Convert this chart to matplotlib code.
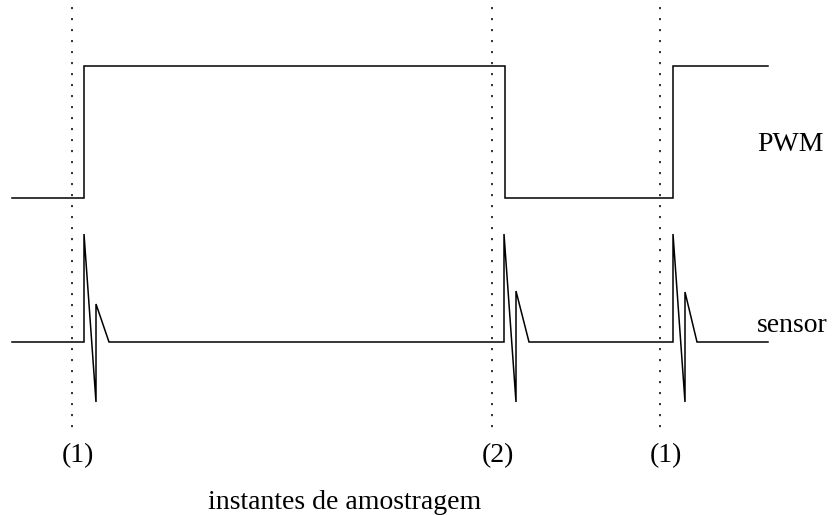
import matplotlib
matplotlib.use("Agg")
import matplotlib.pyplot as plt

# Data (pixel-like coordinates of the diagram)
pwm_x = [12, 84, 84, 505, 505, 673, 673, 768]
pwm_y = [198, 198, 66, 66, 198, 198, 66, 66]

sensor_x = [12, 84, 84, 96, 96, 109, 504, 504, 516, 516, 529, 673, 673, 685, 685, 697, 768]
sensor_y = [342, 342, 234, 402, 304, 342, 342, 234, 402, 291, 342, 342, 234, 402, 292, 342, 342]

sample_x = [72, 492, 660]
sample_labels = ["(1)", "(2)", "(1)"]
sample_label_x = [77.5, 497.5, 666]

plt.rcParams['font.family'] = ['Liberation Serif', 'DejaVu Serif']

fig = plt.figure(figsize=(8.33, 5.15), dpi=100)
ax = fig.add_axes([0, 0, 1, 1])
ax.set_xlim(0, 833)
ax.set_ylim(515, 0)
ax.axis('off')

ax.plot(pwm_x, pwm_y, color='black', lw=1.1, solid_joinstyle='miter')
ax.plot(sensor_x, sensor_y, color='black', lw=1.1, solid_joinstyle='miter')

for x in sample_x:
    ax.plot([x, x], [7, 432], color='black', lw=1.1, linestyle=(0, (1.4, 5.8)))

for x, lab in zip(sample_label_x, sample_labels):
    ax.text(x, 462, lab, ha='center', va='baseline', fontsize=20)

ax.text(757, 151, "PWM", ha='left', va='baseline', fontsize=20)
ax.text(757, 332, "sensor", ha='left', va='baseline', fontsize=20)
ax.text(345, 509, "instantes de amostragem", ha='center', va='baseline', fontsize=20)

fig.savefig("out.png", dpi=100)
